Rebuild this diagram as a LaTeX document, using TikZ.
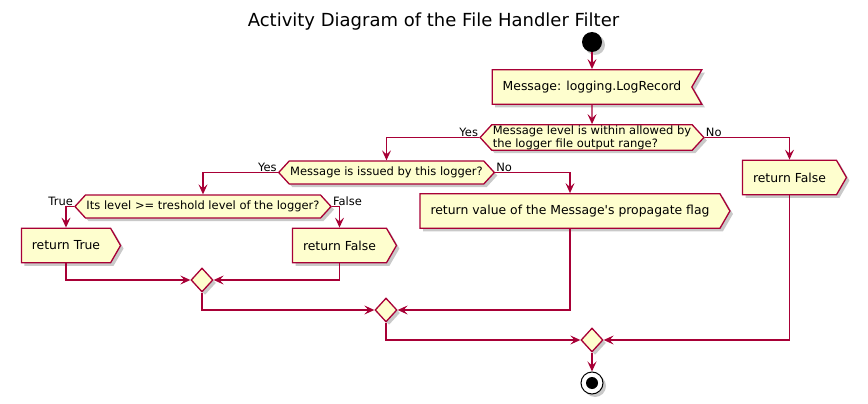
\documentclass[tikz,border=0pt]{standalone}
\usepackage{fontspec}
\setmainfont{DejaVu Sans}
\usetikzlibrary{shapes.symbols,shapes.geometric,arrows.meta,shadows}

\definecolor{umlred}{HTML}{A80036}
\definecolor{umlfill}{HTML}{FEFECE}

\begin{document}
\begin{tikzpicture}[x=1pt,y=-1pt]
  % Parameters
  \def\boxheight{34.5pt}
  \def\boxgap{10.5pt}
  \def\edge{1.3pt}

  % Styles of the activity shapes
  \tikzset{
    umlshadow/.style={drop shadow={shadow xshift=3pt, shadow yshift=-3pt, opacity=0.35, fill=black!60}},
    action/.style={signal, signal to=east, signal pointer angle=120,
      draw=umlred, fill=umlfill, line width=\edge, umlshadow,
      minimum height=\boxheight, inner xsep=\boxgap, inner ysep=0pt,
      font=\fontsize{12.4}{15}\selectfont},
    receive/.style={action, signal to=nowhere, signal from=east},
    decision/.style={signal, signal to=east and west, signal pointer angle=95,
      draw=umlred, fill=umlfill, line width=\edge, umlshadow,
      minimum height=23pt, inner xsep=1pt, inner ysep=0.5pt, align=left,
      font=\fontsize{11.5}{13.3}\selectfont},
    merge/.style={diamond, draw=umlred, fill=umlfill, line width=\edge, umlshadow,
      minimum width=22pt, minimum height=24pt, inner sep=0pt},
    guard/.style={inner sep=1pt, font=\fontsize{11.5}{13}\selectfont},
    flow/.style={draw=umlred, line width=\edge, -{Stealth[length=10pt, width=9pt, inset=4pt]}}
  }

  \useasboundingbox[fill=white] (0,0) rectangle (868,404);

  % Title
  \node[font=\fontsize{18}{21}\selectfont] (title) at (433.5,21.5) {Activity Diagram of the File Handler Filter};

  % Start, input and first check
  \node[circle, fill=black, minimum size=20pt, inner sep=0pt, umlshadow] (start) at (592,42) {};
  \node[receive] (msg) at (592,87) {Message: logging.LogRecord};
  \node[decision] (lvl) at (592,137.5) {Message level is within allowed by\\the logger file output range?};

  % Nested checks
  \node[decision] (issued) at (386.5,172.5) {Message is issued by this logger?};
  \node[decision] (thr) at (203,206.5) {Its level >= treshold level of the logger?};

  % Return actions
  \node[action] (rtrue) at (66,245.5) {return True};
  \node[action] (rfalse) at (339.5,245.5) {return False};
  \node[action] (rprop) at (570,211) {return value of the Message\textquotesingle s propagate flag};
  \node[action] (rdeny) at (789.5,177.5) {return False};

  % Merges and end
  \node[merge] (mthr) at (202,280) {};
  \node[merge] (missued) at (386,310) {};
  \node[merge] (mlvl) at (592,340) {};
  \node[circle, draw=black, fill=white, line width=1pt, minimum size=22pt, inner sep=0pt, umlshadow,
    path picture={\fill[black] (path picture bounding box.center) circle (6pt);}] (stop) at (592,383) {};

  % Guards
  \node[guard, anchor=south east] (lvlyes) at (lvl.west) {Yes};
  \node[guard, anchor=south west] (lvlno) at (lvl.east) {No};
  \node[guard, anchor=south east] (issuedyes) at (issued.west) {Yes};
  \node[guard, anchor=south west] (issuedno) at (issued.east) {No};
  \node[guard, anchor=south east] (thryes) at (thr.west) {True};
  \node[guard, anchor=south west] (thrno) at (thr.east) {False};

  % Main flow
  \draw[flow] (start) -- (msg);
  \draw[flow] (msg) -- (lvl);

  % Branches
  \draw[flow] (lvl.west) -| (issued.north);
  \draw[flow] (lvl.east) -| (rdeny.north);
  \draw[flow] (issued.west) -| (thr.north);
  \draw[flow] (issued.east) -| (rprop.north);
  \draw[flow] (thr.west) -| (rtrue.north);
  \draw[flow] (thr.east) -| (rfalse.north);

  % Joins
  \foreach \from/\to in {rtrue.south/mthr.west, rfalse.south/mthr.east,
      mthr.south/missued.west, rprop.south/missued.east,
      missued.south/mlvl.west, rdeny.south/mlvl.east} {
    \draw[flow] (\from) |- (\to);
  }
  \draw[flow] (mlvl) -- (stop);

\end{tikzpicture}
\end{document}
